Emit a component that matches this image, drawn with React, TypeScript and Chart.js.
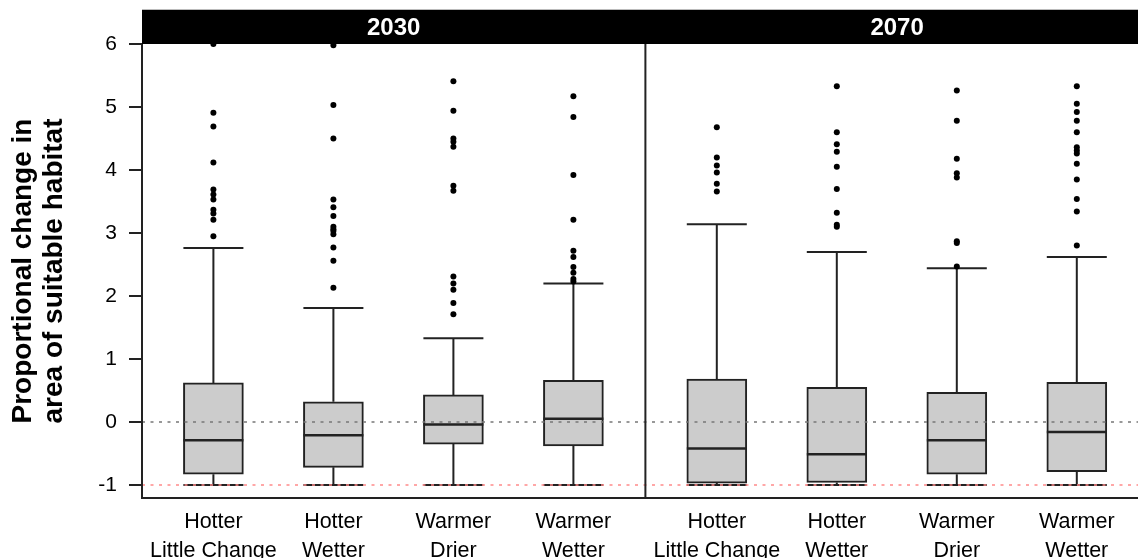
import React, { useEffect, useRef } from 'react';
import { Chart, registerables } from 'chart.js';

Chart.register(...registerables);

// ---- data ----
const periods = ['2030', '2070'];
const scenarioLabels: string[][] = [
  ['Hotter', 'Little Change'],
  ['Hotter', 'Wetter'],
  ['Warmer', 'Drier'],
  ['Warmer', 'Wetter'],
];
const yTickValues = [-1, 0, 1, 2, 3, 4, 5, 6];
const yTitle = ['Proportional change in', 'area of suitable habitat'];
const referenceLevels = [0, -1];

// order: 2030 (HLC, HW, WD, WW), 2070 (HLC, HW, WD, WW)
const lowerWhisker = [-1, -1, -1, -1, -1, -1, -1, -1];
const q1 = [-0.83, -0.72, -0.35, -0.38, -0.97, -0.96, -0.83, -0.79];
const medians = [-0.29, -0.21, -0.04, 0.05, -0.42, -0.51, -0.29, -0.16];
const q3 = [0.62, 0.32, 0.43, 0.66, 0.68, 0.55, 0.47, 0.63];
const upperWhisker = [2.76, 1.81, 1.33, 2.2, 3.14, 2.7, 2.44, 2.62];

const outliers2030HLC = [6.0, 4.91, 4.69, 4.12, 3.69, 3.61, 3.53, 3.37, 3.31, 3.21, 2.95];
const outliers2030HW = [5.98, 5.03, 4.5, 3.53, 3.41, 3.27, 3.1, 3.06, 3.03, 2.98, 2.77, 2.56, 2.13];
const outliers2030WD = [5.41, 4.94, 4.5, 4.45, 4.37, 3.75, 3.67, 2.31, 2.2, 2.1, 1.89, 1.71];
const outliers2030WW = [5.17, 4.84, 3.92, 3.21, 2.72, 2.62, 2.46, 2.37, 2.27, 2.23];
const outliers2070HLC = [4.68, 4.2, 4.07, 3.96, 3.78, 3.66];
const outliers2070HW = [5.33, 4.6, 4.41, 4.29, 4.05, 3.7, 3.32, 3.13, 3.1];
const outliers2070WD = [5.26, 4.78, 4.18, 3.95, 3.88, 2.87, 2.84, 2.47];
const outliers2070WW = [5.33, 5.05, 4.92, 4.78, 4.6, 4.36, 4.31, 4.26, 4.1, 3.85, 3.54, 3.34, 2.8];
const outliers = [
  outliers2030HLC, outliers2030HW, outliers2030WD, outliers2030WW,
  outliers2070HLC, outliers2070HW, outliers2070WD, outliers2070WW,
];

// ---- layout (in x-axis units) ----
const PANEL_SPAN = 4.195;
const FIRST_OFFSET = 0.595;
const X_MAX = 8.3;
const Y_MAX = 6;
const Y_MIN = -1.2063;
const HALF_BOX = 0.25;
const FONT = '"Liberation Sans", Arial, Helvetica, sans-serif';

const nPerPanel = scenarioLabels.length;
const positions = q1.map((_, i) => Math.floor(i / nPerPanel) * PANEL_SPAN + FIRST_OFFSET + (i % nPerPanel));

const gap = (x: number) => ({ x, y: null as any });

const whiskerData: any[] = [];
positions.forEach((p, i) => {
  whiskerData.push({ x: p, y: q3[i] }, { x: p, y: upperWhisker[i] }, gap(p));
  whiskerData.push({ x: p - HALF_BOX, y: upperWhisker[i] }, { x: p + HALF_BOX, y: upperWhisker[i] }, gap(p));
  whiskerData.push({ x: p, y: q1[i] }, { x: p, y: lowerWhisker[i] }, gap(p));
  whiskerData.push({ x: p - HALF_BOX, y: lowerWhisker[i] }, { x: p + HALF_BOX, y: lowerWhisker[i] }, gap(p));
});

const medianData: any[] = [];
positions.forEach((p, i) => {
  medianData.push({ x: p - HALF_BOX, y: medians[i] }, { x: p + HALF_BOX, y: medians[i] }, gap(p));
});

const outlierData: any[] = [];
positions.forEach((p, i) => outliers[i].forEach((v) => outlierData.push({ x: p, y: v })));

const framePlugin = {
  id: 'panelFrame',
  afterDatasetsDraw(chart: any) {
    const { ctx, chartArea, scales } = chart;
    const x = scales.x;
    const stripTop = 10;
    ctx.save();
    ctx.fillStyle = '#000';
    ctx.fillRect(chartArea.left, stripTop, chartArea.right - chartArea.left, chartArea.top - stripTop);
    ctx.strokeStyle = '#bbb';
    ctx.lineWidth = 1;
    ctx.beginPath();
    ctx.moveTo(chartArea.left, stripTop - 0.5);
    ctx.lineTo(chartArea.right, stripTop - 0.5);
    ctx.stroke();
    ctx.fillStyle = '#fff';
    ctx.font = `bold 24px ${FONT}`;
    ctx.textAlign = 'center';
    ctx.textBaseline = 'middle';
    periods.forEach((p, k) => {
      ctx.fillText(p, x.getPixelForValue(k * PANEL_SPAN + PANEL_SPAN / 2), (stripTop + chartArea.top) / 2 + 1);
    });
    ctx.strokeStyle = '#222';
    ctx.lineWidth = 2;
    ctx.beginPath();
    ctx.moveTo(chartArea.left, chartArea.top);
    ctx.lineTo(chartArea.left, chartArea.bottom);
    ctx.lineTo(chartArea.right, chartArea.bottom);
    for (let k = 1; k < periods.length; k++) {
      const dx = x.getPixelForValue(k * PANEL_SPAN);
      ctx.moveTo(dx, chartArea.top);
      ctx.lineTo(dx, chartArea.bottom);
    }
    ctx.stroke();
    ctx.restore();
  },
};

export default function App() {
  const ref = useRef<HTMLCanvasElement>(null);
  useEffect(() => {
    document.body.style.margin = '0';
    const refColors = ['#777777', '#ff8a8a'];
    const chart = new Chart(ref.current as HTMLCanvasElement, {
      type: 'bar',
      data: {
        datasets: [
          ...referenceLevels.map((lvl, k) => ({
            type: 'line' as const,
            data: [{ x: 0, y: lvl }, { x: X_MAX, y: lvl }],
            borderColor: refColors[k],
            borderWidth: 1.5,
            borderDash: [3, 5.5],
            pointRadius: 0,
            order: 0,
          })),
          {
            type: 'scatter' as const,
            data: outlierData,
            pointRadius: 3,
            pointBackgroundColor: '#000',
            pointBorderWidth: 0,
            showLine: false,
            order: 1,
          },
          {
            type: 'line' as const,
            data: medianData,
            borderColor: '#222',
            borderWidth: 2.5,
            pointRadius: 0,
            spanGaps: false,
            order: 2,
          },
          {
            type: 'line' as const,
            data: whiskerData,
            borderColor: '#222',
            borderWidth: 2,
            pointRadius: 0,
            spanGaps: false,
            order: 3,
          },
          {
            type: 'bar' as const,
            data: positions.map((p, i) => ({ x: p, y: [q1[i], q3[i]] })) as any,
            backgroundColor: '#cccccc',
            borderColor: '#222',
            borderWidth: 2,
            borderSkipped: false,
            barThickness: 60,
            grouped: false,
            order: 4,
          },
        ] as any,
      },
      options: {
        responsive: false,
        animation: false,
        devicePixelRatio: 1,
        events: [],
        layout: { autoPadding: false, padding: { top: 44, left: 0, right: 0, bottom: 0 } },
        plugins: { legend: { display: false }, tooltip: { enabled: false } },
        scales: {
          x: {
            type: 'linear',
            min: 0,
            max: X_MAX,
            offset: false,
            afterBuildTicks: (s: any) => {
              s.ticks = positions.map((v) => ({ value: v }));
            },
            afterFit: (s: any) => {
              s.height = 60;
              s.paddingLeft = 0;
              s.paddingRight = 0;
            },
            grid: { display: false, drawTicks: false, offset: false },
            border: { display: false },
            ticks: {
              autoSkip: false,
              maxRotation: 0,
              minRotation: 0,
              padding: 10,
              color: '#000',
              font: { family: FONT, size: 21.5, lineHeight: 1.33 },
              callback: (_v: any, i: number) => scenarioLabels[i % nPerPanel],
            },
          },
          y: {
            type: 'linear',
            min: Y_MIN,
            max: Y_MAX,
            afterBuildTicks: (s: any) => {
              s.ticks = yTickValues.map((v) => ({ value: v }));
            },
            afterFit: (s: any) => {
              s.width = 142;
              s.paddingTop = 0;
              s.paddingBottom = 0;
            },
            grid: { drawOnChartArea: false, drawTicks: true, tickLength: 13, color: '#222', lineWidth: 2 },
            border: { display: false },
            ticks: {
              color: '#000',
              padding: 12,
              font: { family: FONT, size: 21 },
              callback: (v: any) => String(v),
            },
            title: {
              display: true,
              text: yTitle,
              color: '#000',
              font: { family: FONT, size: 28, weight: 'bold', lineHeight: 1.1 },
              padding: { top: 8, bottom: 0 },
            },
          },
        },
      } as any,
      plugins: [framePlugin],
    });
    return () => chart.destroy();
  }, []);
  return (
    <div style={{ width: 1138, height: 558 }}>
      <canvas ref={ref} width={1138} height={558} style={{ display: 'block', width: 1138, height: 558 }} />
    </div>
  );
}
